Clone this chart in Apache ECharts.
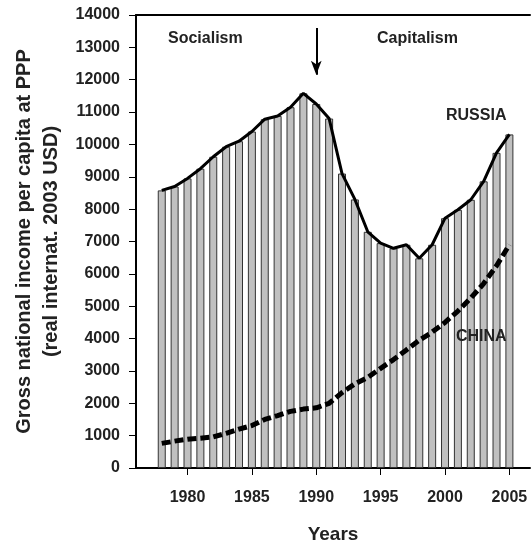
<!DOCTYPE html>
<html>
<head>
<meta charset="utf-8">
<script src="https://cdn.jsdelivr.net/npm/echarts@6/dist/echarts.min.js"></script>
<style>
  html, body { margin: 0; padding: 0; background: #fff; }
  #main { width: 532px; height: 542px; }
</style>
</head>
<body>
<div id="main"></div>
<script>
// data
var years = [1978, 1979, 1980, 1981, 1982, 1983, 1984, 1985, 1986, 1987,
             1988, 1989, 1990, 1991, 1992, 1993, 1994, 1995, 1996, 1997,
             1998, 1999, 2000, 2001, 2002, 2003, 2004, 2005];
var russia = [8580, 8700, 8950, 9250, 9620, 9930, 10100, 10400, 10780, 10880,
              11150, 11580, 11250, 10800, 9100, 8300, 7300, 6950, 6790, 6900,
              6480, 6900, 7720, 7980, 8290, 8860, 9740, 10310];
var china = [760, 830, 890, 920, 960, 1070, 1200, 1310, 1500, 1620,
             1750, 1820, 1860, 2000, 2330, 2600, 2800, 3080, 3350, 3650,
             3950, 4200, 4500, 4850, 5250, 5700, 6250, 6900];
var yearTicks = [1980, 1985, 1990, 1995, 2000, 2005];

var font = 'Arial, "Liberation Sans", sans-serif';

function pairs(vals) {
    return years.map(function (y, i) { return [y, vals[i]]; });
}
function plain(v) { return String(v); }

var myChart = echarts.init(document.getElementById('main'));

var option = {
    animation: false,
    backgroundColor: '#fff',
    grid: { left: 136, right: 2, top: 15, bottom: 74, outerBoundsMode: 'none' },
    xAxis: [{
        type: 'value',
        min: 1976,
        max: 2006.6,
        name: 'Years',
        nameLocation: 'middle',
        nameGap: 57,
        nameTextStyle: { fontFamily: font, fontWeight: 'bold', fontSize: 19, color: '#222' },
        splitLine: { show: false },
        axisLine: { lineStyle: { color: '#000', width: 2 } },
        axisTick: { show: true, length: 7, customValues: yearTicks, lineStyle: { color: '#000' } },
        axisLabel: {
            customValues: yearTicks,
            margin: 22,
            formatter: plain,
            fontFamily: font, fontWeight: 'bold', fontSize: 16, color: '#222'
        }
    }, {
        // top border line
        type: 'value',
        position: 'top',
        min: 1976,
        max: 2006.6,
        splitLine: { show: false },
        axisLine: { show: true, lineStyle: { color: '#000', width: 2 } },
        axisTick: { show: false },
        axisLabel: { show: false }
    }],
    yAxis: {
        type: 'value',
        min: 0,
        max: 14000,
        interval: 1000,
        name: 'Gross national income per capita at PPP\n(real internat. 2003 USD)',
        nameLocation: 'middle',
        nameRotate: 90,
        nameGap: 68,
        nameTextStyle: { fontFamily: font, fontWeight: 'bold', fontSize: 20, color: '#222', lineHeight: 27 },
        splitLine: { show: false },
        axisLine: { show: true, lineStyle: { color: '#000', width: 2 } },
        axisTick: { show: true, length: 7, lineStyle: { color: '#000' } },
        axisLabel: {
            margin: 16,
            formatter: plain,
            fontFamily: font, fontWeight: 'bold', fontSize: 16, color: '#222'
        }
    },
    series: [
        {
            name: 'RUSSIA',
            type: 'bar',
            data: pairs(russia),
            barWidth: 8,
            itemStyle: { color: '#c0c0c0', borderColor: '#333', borderWidth: 1 },
            markLine: {
                silent: true,
                symbol: ['none', 'arrow'],
                symbolSize: [8, 14],
                label: { show: false },
                lineStyle: { color: '#000', width: 2, type: 'solid' },
                data: [[{ coord: [1990, 13600] }, { coord: [1990, 12150] }]]
            }
        },
        {
            name: 'RUSSIA line',
            type: 'line',
            data: pairs(russia),
            symbol: 'none',
            z: 3,
            lineStyle: { color: '#000', width: 3 }
        },
        {
            name: 'CHINA',
            type: 'line',
            data: pairs(china),
            symbol: 'none',
            z: 4,
            lineStyle: { color: '#000', width: 5, type: [9, 4] }
        }
    ],
    graphic: [
        { type: 'text', z: 100, left: 168, top: 31, style: { text: 'Socialism', font: 'bold 16px ' + font, fill: '#222' } },
        { type: 'text', z: 100, left: 377, top: 31, style: { text: 'Capitalism', font: 'bold 16px ' + font, fill: '#222' } },
        { type: 'text', z: 100, left: 446, top: 108, style: { text: 'RUSSIA', font: 'bold 16px ' + font, fill: '#222' } },
        { type: 'text', z: 100, left: 456, top: 329, style: { text: 'CHINA', font: 'bold 16px ' + font, fill: '#222' } }
    ]
};

myChart.setOption(option);
</script>
</body>
</html>
